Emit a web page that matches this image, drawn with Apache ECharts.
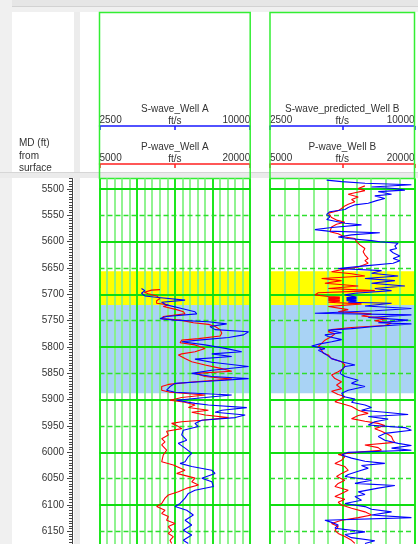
<!DOCTYPE html>
<html>
<head>
<meta charset="utf-8">
<script src="https://cdn.jsdelivr.net/npm/echarts@6/dist/echarts.min.js"></script>
<style>
html,body{margin:0;padding:0;background:#fff;}
#chart{width:418px;height:544px;}
</style>
</head>
<body>
<div id="chart"></div>
<script>
// ---- depth window, ruler labels and grid rows (ft) ----
const depthRange = [5480, 6175];
const depthLabels = [5500,5550,5600,5650,5700,5750,5800,5850,5900,5950,6000,6050,6100,6150];
const solidRows = [5500,5600,5700,5800,5900,6000,6100];
const dashedRows = [5550,5650,5750,5850,5950,6050,6150];

// ---- zones (top / base, ft) ----
const zoneTops = [5656, 5720];
const zoneBases = [5720, 5888];

// ---- scales (ft/s) ----
const sScale = [2500, 10000];
const pScale = [5000, 20000];

// ---- log curves: [MD ft, velocity ft/s] ----
const wellA_Swave = [
[5689,4590],[5693,4760],[5698,4590],[5703,4760],[5706,5430],[5711,6760],[5715,5590],[5720,5840],
[5727,6590],[5733,7250],[5737,7340],[5742,5840],[5746,5510],[5749,6260],[5752,7920],[5756,8830],
[5761,8000],[5767,8250],[5771,9920],[5777,9670],[5782,8920],[5787,7420],[5790,6590],[5796,7750],
[5803,8830],[5809,9580],[5813,8090],[5818,9080],[5823,7250],[5829,8090],[5837,9920],[5844,8090],
[5850,7090],[5856,8090],[5860,9920],[5865,7920],[5869,6260],[5875,6010],[5882,5840],[5886,6260],
[5891,9080],[5896,7750],[5901,6340],[5907,7250],[5910,7920],[5915,9830],[5920,8590],[5924,8250],
[5929,9750],[5934,9250],[5939,7590],[5945,7250],[5951,7420],[5958,6670],[5967,6590],[5977,6840],
[5983,6420],[5992,6760],[6002,7090],[6008,6920],[6018,6760],[6021,6510],[6027,7090],[6034,8090],
[6040,8250],[6049,7590],[6056,8090],[6065,8170],[6072,7250],[6078,6920],[6087,6760],[6097,6510],
[6103,6260],[6110,6840],[6119,7170],[6129,6760],[6138,7090],[6148,6670],[6157,7090],[6167,6670],
[6173,6920]
];
const wellA_Pwave = [
[5691,11020],[5692,10190],[5696,9460],[5699,9850],[5703,10690],[5708,11020],[5712,10690],[5717,10690],
[5720,11850],[5723,11350],[5729,12680],[5733,13350],[5737,13510],[5742,11350],[5746,11190],[5749,13020],
[5754,14350],[5757,15840],[5761,16510],[5767,17010],[5774,17170],[5779,17010],[5784,14850],[5787,13180],
[5792,13020],[5796,14510],[5803,15510],[5809,14510],[5813,13180],[5815,12850],[5822,13510],[5828,14180],
[5834,15510],[5841,17170],[5846,18170],[5850,14510],[5856,15510],[5861,18170],[5866,14510],[5871,11850],
[5875,11190],[5882,11190],[5886,12020],[5891,15510],[5896,13180],[5901,12020],[5905,13510],[5910,14510],
[5915,13850],[5920,15840],[5924,14180],[5929,15510],[5934,17840],[5939,15180],[5942,13180],[5945,12180],
[5949,12680],[5955,13180],[5960,11680],[5967,11850],[5974,11190],[5980,11520],[5986,11190],[5996,11680],
[6005,11350],[6018,11190],[6024,12350],[6034,13510],[6040,12680],[6049,14510],[6056,14180],[6062,14850],
[6068,13680],[6075,12850],[6081,11850],[6087,11520],[6097,11190],[6103,10690],[6110,11520],[6116,11190],
[6122,11850],[6129,11680],[6135,12520],[6141,11850],[6148,12180],[6154,11850],[6160,12350],[6167,12020],
[6173,12180]
];
const wellB_Swave = [
[5483,5440],[5486,6220],[5489,7430],[5492,9840],[5496,7770],[5499,8980],[5502,9500],[5505,8120],
[5510,8810],[5513,7940],[5518,8460],[5522,8030],[5527,7600],[5530,6910],[5535,6560],[5539,6390],
[5543,5610],[5548,5440],[5553,5610],[5558,5440],[5561,5350],[5565,6390],[5568,7250],[5573,5700],
[5577,4830],[5580,5520],[5583,8200],[5587,6730],[5591,6040],[5594,6560],[5598,7770],[5600,8200],
[5603,9150],[5608,8980],[5613,9070],[5616,8720],[5621,8890],[5627,9240],[5632,8890],[5636,9240],
[5641,8890],[5646,7430],[5651,6040],[5655,8290],[5660,7770],[5665,9150],[5670,7430],[5674,8980],
[5679,7770],[5684,9500],[5689,7940],[5693,8810],[5698,6910],[5701,6390],[5704,6470],[5705,6990],
[5706,6470],[5707,6990],[5708,6470],[5709,6990],[5710,6470],[5711,6990],[5712,6470],[5713,6990],
[5715,6560],[5717,8810],[5722,7430],[5727,9840],[5731,7940],[5736,4830],[5739,9840],[5744,7600],
[5749,9670],[5754,8120],[5756,9840],[5761,7940],[5765,6730],[5768,5520],[5773,6220],[5777,5350],
[5780,5520],[5786,6220],[5790,5700],[5794,5090],[5798,4660],[5803,5350],[5806,5010],[5811,5270],
[5815,5440],[5822,5700],[5828,6220],[5834,6910],[5837,6390],[5844,6220],[5850,6130],[5856,6390],
[5863,7080],[5869,6730],[5875,7430],[5882,6560],[5888,6220],[5894,6300],[5899,6910],[5905,6730],
[5910,7430],[5915,7770],[5920,7250],[5924,8460],[5928,9670],[5932,7600],[5937,8630],[5942,7940],
[5948,7600],[5953,9500],[5958,9840],[5964,8460],[5970,8120],[5977,8460],[5983,9150],[5987,9840],
[5992,8810],[5996,9840],[6000,6560],[6005,6220],[6011,6730],[6017,7430],[6021,8460],[6025,7250],
[6030,7600],[6036,7080],[6042,6560],[6046,6390],[6053,7770],[6059,6910],[6063,8980],[6068,8120],
[6075,7080],[6080,7430],[6084,6910],[6091,7250],[6097,6390],[6103,7430],[6108,7770],[6113,8810],
[6119,7770],[6124,9840],[6129,5350],[6133,5700],[6138,6040],[6144,5870],[6151,7430],[6156,6390],
[6162,6730],[6168,7940],[6173,7430]
];
const wellB_Pwave = [
[5494,14850],[5499,14160],[5503,14850],[5507,13810],[5510,13120],[5515,14160],[5520,13470],[5524,13810],
[5529,13120],[5532,12770],[5537,12430],[5541,12080],[5546,11050],[5549,11220],[5554,11390],[5559,11910],
[5563,12770],[5567,11910],[5572,11390],[5575,11220],[5581,11220],[5585,12080],[5591,12770],[5594,13810],
[5600,13980],[5606,14330],[5613,14850],[5619,14670],[5625,14850],[5632,15190],[5636,14850],[5641,15190],
[5648,14160],[5653,12430],[5657,11390],[5661,13470],[5665,14850],[5670,10360],[5674,12430],[5679,10700],
[5684,14160],[5689,11050],[5693,15880],[5697,10010],[5701,9660],[5704,11050],[5705,12250],[5706,11050],
[5707,12250],[5708,11050],[5709,12250],[5710,11050],[5711,12250],[5712,11050],[5713,12250],[5715,11050],
[5718,14500],[5723,11050],[5729,13120],[5733,12080],[5737,15540],[5741,14500],[5746,17270],[5750,15880],
[5755,17610],[5759,16920],[5763,13470],[5767,11390],[5771,11050],[5775,11740],[5780,11390],[5787,10700],
[5793,10360],[5799,10010],[5806,10360],[5812,10530],[5815,11050],[5822,11390],[5828,12430],[5834,12770],
[5841,12600],[5847,12080],[5853,11390],[5860,11740],[5866,12430],[5872,11910],[5879,12430],[5884,11390],
[5890,12080],[5894,12770],[5899,12260],[5904,11740],[5909,12770],[5913,13470],[5920,14160],[5926,15190],
[5930,14160],[5936,13470],[5941,14850],[5945,16230],[5949,16920],[5955,15880],[5960,16570],[5966,17270],
[5970,17610],[5977,17780],[5981,17960],[5986,14850],[5991,16230],[5996,16570],[5999,14500],[6004,12080],
[6008,12770],[6015,12430],[6021,11740],[6027,12770],[6034,13120],[6040,12430],[6046,11910],[6053,12770],
[6059,12080],[6065,11740],[6072,13120],[6078,12430],[6084,11740],[6089,12770],[6095,12080],[6100,12430],
[6106,13470],[6113,14850],[6119,15540],[6124,14160],[6129,12430],[6135,11390],[6141,12080],[6148,11740],
[6154,12080],[6160,12770],[6167,13470],[6173,13810]
];

// ---- styling ----
const FONT = 'Liberation Sans, Arial, sans-serif';
const TEXT = '#333333';
const ZONE_COLORS = ['#ffff00', '#a9d3f5'];
const GREEN = '#1ee61e';
const GREEN_LIGHT = '#84f284';
const BODY_TOP = 178.5, BODY_H = 366;
const tracks = [
  { left: 99.5, width: 150.7, sTitle: 'S-wave_Well A', pTitle: 'P-wave_Well A', minorDiv: 20, majorDiv: 4, s: wellA_Swave, p: wellA_Pwave },
  { left: 270, width: 144.5, sTitle: 'S-wave_predicted_Well B', pTitle: 'P-wave_Well B', minorDiv: 10, majorDiv: 2, s: wellB_Swave, p: wellB_Pwave }
];

const xy = arr => arr.map(d => [d[1], d[0]]);

function headerAxis(gridIndex, scale, color, offset, title) {
  return {
    gridIndex, type: 'value', position: 'top', offset,
    min: scale[0], max: scale[1],
    axisLine: { show: true, onZero: false, lineStyle: { color, width: 1.5 } },
    axisTick: { show: true, inside: true, length: 4, customValues: [scale[0], (scale[0] + scale[1]) / 2, scale[1]], lineStyle: { color, width: 1.5 } },
    axisLabel: { show: true, customValues: [scale[0], scale[1]], formatter: v => String(v), fontSize: 10, fontFamily: FONT, color: TEXT, margin: 1, alignMinLabel: 'left', alignMaxLabel: 'right' },
    splitLine: { show: false },
    name: title + '\nft/s', nameLocation: 'middle', nameGap: -1, nameMoveOverlap: false,
    nameTextStyle: { fontSize: 10, fontFamily: FONT, color: TEXT, lineHeight: 12 }
  };
}
// grid lines sit on their own layer above the zone shading
function gridLineAxis(gridIndex, div, color, width) {
  return {
    gridIndex, type: 'value', min: 0, max: div, interval: 1, zlevel: 1, z: 1,
    axisLine: { show: false }, axisTick: { show: false }, axisLabel: { show: false },
    splitLine: { show: true, lineStyle: { color, width } }
  };
}
function rowAxis(gridIndex, rows, lineStyle) {
  return {
    gridIndex, type: 'value', inverse: true, min: depthRange[0], max: depthRange[1], zlevel: 1, z: 2,
    axisLine: { show: false }, axisLabel: { show: false },
    axisTick: { show: false, customValues: rows },
    splitLine: { show: true, lineStyle }
  };
}

const grids = [{ left: 72, top: BODY_TOP, width: 1, height: BODY_H, outerBoundsMode: 'none' }];
const xAxes = [{ gridIndex: 0, type: 'value', show: false, min: 0, max: 1 }];
const yAxes = [
  { gridIndex: 0, type: 'value', inverse: true, min: depthRange[0], max: depthRange[1], interval: 5, position: 'left',
    axisLine: { show: true, lineStyle: { color: '#444', width: 1 } },
    axisTick: { show: true, length: 3, lineStyle: { color: '#444' } },
    axisLabel: { show: true, customValues: depthLabels, formatter: v => String(v), fontSize: 10, fontFamily: FONT, color: TEXT, margin: 8 },
    splitLine: { show: false } },
  { gridIndex: 0, type: 'value', inverse: true, min: depthRange[0], max: depthRange[1], position: 'left',
    axisLine: { show: false }, axisLabel: { show: false },
    axisTick: { show: true, length: 5, customValues: depthLabels, lineStyle: { color: '#444' } },
    splitLine: { show: false } }
];
const series = [];
const zoneData = zoneTops.map((t, i) => [{ yAxis: t, itemStyle: { color: ZONE_COLORS[i] } }, { yAxis: zoneBases[i] }]);

tracks.forEach((t, k) => {
  const g = k + 1;
  grids.push({ left: t.left, top: BODY_TOP, width: t.width, height: BODY_H, outerBoundsMode: 'none' });
  const sIdx = xAxes.length;
  xAxes.push(headerAxis(g, sScale, '#1a1aff', 52.5, t.sTitle));
  const pIdx = xAxes.length;
  xAxes.push(headerAxis(g, pScale, '#ff2020', 14.5, t.pTitle));
  xAxes.push(gridLineAxis(g, t.minorDiv, GREEN_LIGHT, 1.8));
  xAxes.push(gridLineAxis(g, t.majorDiv, GREEN, 2));
  const yIdx = yAxes.length;
  yAxes.push(rowAxis(g, solidRows, { color: '#10dd10', width: 1.8 }));
  yAxes.push(rowAxis(g, dashedRows, { color: '#2ede2e', width: 1.4, type: [5, 3] }));

  series.push({ type: 'line', xAxisIndex: sIdx, yAxisIndex: yIdx, data: [], zlevel: 0, z: 0, silent: true,
    markArea: { silent: true, data: zoneData } });
  series.push({ type: 'line', xAxisIndex: pIdx, yAxisIndex: yIdx, data: xy(t.p), symbol: 'none', zlevel: 1, z: 5,
    lineStyle: { color: '#ff0000', width: 1.1 }, silent: true });
  series.push({ type: 'line', xAxisIndex: sIdx, yAxisIndex: yIdx, data: xy(t.s), symbol: 'none', zlevel: 1, z: 6,
    lineStyle: { color: '#0000ff', width: 1.1 }, silent: true });
});

// panel frame, separators, header boxes and the depth column caption
const graphics = [
  { type: 'rect', shape: { x: 0, y: 0, width: 418, height: 7 }, style: { fill: '#e6e6e6' } },
  { type: 'rect', shape: { x: 0, y: 7, width: 418, height: 5 }, style: { fill: '#f0f0f0' } },
  { type: 'line', shape: { x1: 0, y1: 6.5, x2: 418, y2: 6.5 }, style: { stroke: '#d2d2d2', lineWidth: 1 } },
  { type: 'rect', shape: { x: 0, y: 0, width: 12, height: 544 }, style: { fill: '#f0f0f0' } },
  { type: 'rect', shape: { x: 74, y: 12, width: 6, height: 532 }, style: { fill: '#ececec' } },
  { type: 'rect', shape: { x: 0, y: 172, width: 418, height: 6 }, style: { fill: '#ebebeb' } },
  { type: 'line', shape: { x1: 0, y1: 172.5, x2: 418, y2: 172.5 }, style: { stroke: '#d6d6d6', lineWidth: 1 } },
  { type: 'text', x: 19, y: 137, style: { text: 'MD (ft)\nfrom\nsurface', font: '10px ' + FONT, fill: TEXT, lineHeight: 12.5 } }
];
tracks.forEach(t => {
  graphics.push({ type: 'rect', z: 10, shape: { x: t.left, y: 12.5, width: t.width, height: BODY_TOP - 12.5 },
    style: { fill: 'none', stroke: '#33ee33', lineWidth: 1.5 } });
});

const chart = echarts.init(document.getElementById('chart'), null, { renderer: 'canvas' });
chart.setOption({
  backgroundColor: '#ffffff',
  animation: false,
  textStyle: { fontFamily: FONT },
  grid: grids,
  xAxis: xAxes,
  yAxis: yAxes,
  series,
  graphic: graphics
});
</script>
</body>
</html>
